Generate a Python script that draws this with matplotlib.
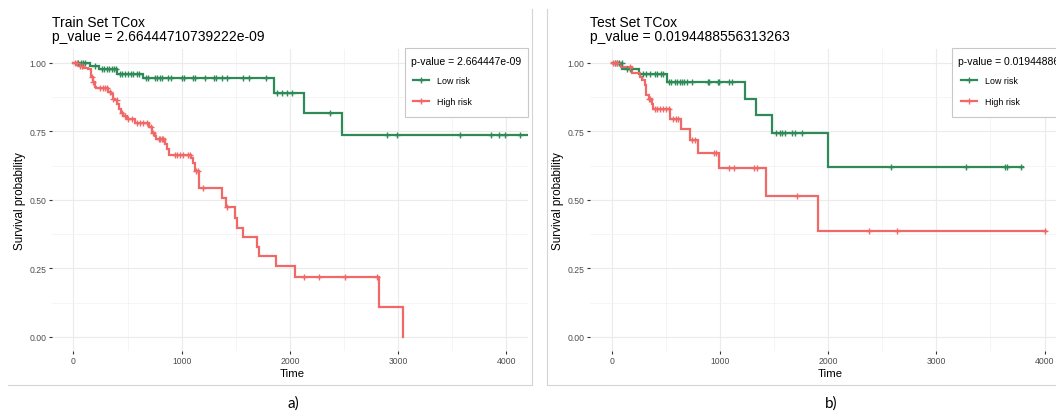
import numpy as np
import matplotlib

matplotlib.use("Agg")
from matplotlib import pyplot as plt
from matplotlib.lines import Line2D
from matplotlib.patches import Rectangle

plt.rcParams["font.family"] = ["Liberation Sans", "DejaVu Sans"]

W, H = 1056, 414

GREEN = "#2E8B57"
RED = "#F06868"

# ---- Train set: Kaplan-Meier steps (time of drop, survival after drop) ----
train_low_t = [0, 150, 240, 405, 640, 1855, 2132, 2477]
train_low_s = [1.0, 0.988, 0.976, 0.960, 0.944, 0.890, 0.818, 0.735]
train_low_end = 4200
train_low_cens = [46, 68, 92, 108, 200, 262, 286, 308, 333, 354, 376, 394,
                  431, 453, 477, 508, 530, 554, 585, 610,
                  671, 693, 749, 770, 801, 822, 878, 899, 1001, 1023, 1103,
                  1124, 1217, 1300, 1318, 1371, 1417, 1565, 1623, 1781,
                  1877, 1925, 1973, 2021, 2372,
                  2899, 2994, 3569, 3856, 3936, 3984, 4128]

train_high_t = [0, 37, 55, 92, 139, 165, 180, 195, 212, 323, 345, 363, 385,
                407, 425, 437, 462, 493, 570, 702, 724, 749, 764, 847, 862,
                887, 1084, 1103, 1124, 1161, 1370, 1410, 1493, 1514, 1564,
                1699, 1717, 1871, 2050, 2825, 3042]
train_high_s = [1.0, 0.993, 0.987, 0.979, 0.976, 0.948, 0.930, 0.911, 0.908,
                0.893, 0.885, 0.869, 0.863, 0.851, 0.833, 0.817, 0.805, 0.795,
                0.782, 0.766, 0.744, 0.733, 0.722, 0.702, 0.686, 0.665, 0.653,
                0.635, 0.605, 0.544, 0.508, 0.475, 0.435, 0.399, 0.366, 0.327,
                0.294, 0.257, 0.217, 0.110, 0.0]
train_high_end = 3042
train_high_cens = [15, 31, 62, 77, 170, 185, 246, 271, 293, 308, 339, 370,
                   400, 447, 477, 508, 539, 585, 616, 647, 678, 712, 735,
                   786, 801, 817, 832, 940, 961, 986, 1010, 1063, 1078,
                   1130, 1150, 1195, 1416, 2132, 2267, 2506, 2803]

# ---- Test set ----
test_low_t = [0, 100, 254, 514, 1230, 1331, 1478, 2000]
test_low_s = [1.0, 0.978, 0.958, 0.930, 0.869, 0.808, 0.745, 0.619]
test_low_end = 3800
test_low_cens = [31, 46, 70, 92, 138, 174, 291, 321, 352, 398, 419, 459, 474,
                 529, 551, 582, 603, 627, 652, 673, 695, 744, 888, 903, 980,
                 995, 1087, 1111, 1521, 1552, 1576, 1604, 1669, 1690, 1762,
                 2584, 3278, 3639, 3650, 3778]

test_high_t = [0, 90, 184, 266, 285, 306, 320, 345, 370, 383, 536, 643, 720,
               800, 989, 1428, 1907]
test_high_s = [1.0, 0.983, 0.964, 0.948, 0.936, 0.917, 0.881, 0.866, 0.851,
               0.833, 0.796, 0.760, 0.719, 0.671, 0.617, 0.514, 0.386]
test_high_end = 4009
test_high_cens = [15, 31, 46, 170, 346, 358, 398, 419, 444, 474, 505, 529,
                  566, 597, 615, 747, 772, 948, 964, 1088, 1128, 1313, 1344,
                  1716, 2381, 2637, 4000]

panels = [
    dict(x0=51.8, name="Train Set TCox", p_title="2.66444710739222e-09",
         p_legend="2.664447e-09", legend_x=404.8, tag="a)", tag_x=293,
         frame="left",
         curves=[(train_low_t, train_low_s, train_low_end, train_low_cens, GREEN),
                 (train_high_t, train_high_s, train_high_end, train_high_cens, RED)]),
    dict(x0=590.0, name="Test Set TCox", p_title="0.0194488556313263",
         p_legend="0.01944886", legend_x=952.3, tag="b)", tag_x=831,
         frame="right",
         curves=[(test_low_t, test_low_s, test_low_end, test_low_cens, GREEN),
                 (test_high_t, test_high_s, test_high_end, test_high_cens, RED)]),
]

fig = plt.figure(figsize=(W / 100, H / 100), dpi=100)
fig.patch.set_facecolor("white")


def fx(x):
    return x / W


def fy(y):
    return 1 - y / H


def ftext(x, y, s, **kw):
    fig.text(fx(x), fy(y), s, **kw)


def fline(xs, ys, **kw):
    fig.add_artist(Line2D([fx(v) for v in xs], [fy(v) for v in ys], **kw))


PANEL_W = 476.2
PANEL_TOP, PANEL_BOT = 50.0, 351.7

for p in panels:
    ax = fig.add_axes([fx(p["x0"]), fy(PANEL_BOT), PANEL_W / W, (PANEL_BOT - PANEL_TOP) / H])
    ax.set_xlim(-200, 4200)
    ax.set_ylim(-0.05, 1.05)
    for sp in ax.spines.values():
        sp.set_visible(False)
    ax.set_xticks([0, 1000, 2000, 3000, 4000])
    ax.set_yticks([0, 0.25, 0.5, 0.75, 1.0])
    ax.set_yticklabels(["0.00", "0.25", "0.50", "0.75", "1.00"])
    ax.set_xticks([500, 1500, 2500, 3500], minor=True)
    ax.set_yticks([0.125, 0.375, 0.625, 0.875], minor=True)
    ax.tick_params(which="major", length=2.0, width=0.8, color="#333333",
                   labelcolor="#4D4D4D", labelsize=6.2, pad=1.8)
    ax.tick_params(which="minor", length=0)
    ax.grid(which="major", color="#EBEBEB", linewidth=0.8)
    ax.grid(which="minor", color="#F2F2F2", linewidth=0.5)
    ax.set_axisbelow(True)

    for t, s, end, cens, col in p["curves"]:
        t = np.asarray(t, float)
        s = np.asarray(s, float)
        ax.step(np.r_[t, end], np.r_[s, s[-1]], where="post", color=col,
                linewidth=1.6, solid_joinstyle="miter", zorder=3)
        cens = np.asarray(cens, float)
        idx = np.searchsorted(t, cens, side="right") - 1
        ax.plot(cens, s[idx], linestyle="none", marker="+", markersize=5,
                markeredgewidth=1.0, color=col, zorder=4)

    x0 = p["x0"]
    ftext(x0, 27.3, p["name"], fontsize=10, va="baseline")
    ftext(x0, 40.7, "p_value = " + p["p_title"], fontsize=10, va="baseline")
    ftext(x0 + 19.8 - 51.8, 201, "Survival probability", fontsize=8.4,
          rotation=90, ha="center", va="center")
    ftext(x0 + PANEL_W / 2 + 2, 376.7, "Time", fontsize=8.2, ha="center", va="baseline")

    # legend box
    lx = p["legend_x"]
    right = x0 + PANEL_W
    fig.add_artist(Rectangle((fx(lx), fy(118)), (right - lx) / W, (118 - 49.3) / H,
                             transform=fig.transFigure, facecolor="white",
                             edgecolor="#C8C8C8", linewidth=0.8, zorder=5))
    ftext(lx + 6, 65, "p-value = " + p["p_legend"], fontsize=7.5, va="baseline", zorder=6)
    for yy, lab, col in [(81.3, "Low risk", GREEN), (102.3, "High risk", RED)]:
        fline([lx + 8.3, lx + 24.6], [yy, yy], color=col, linewidth=1.6, zorder=6)
        fline([lx + 16.4], [yy], color=col, marker="+", markersize=5,
              markeredgewidth=1.0, linestyle="none", zorder=6)
        ftext(lx + 32.3, yy, lab, fontsize=6.4, va="center", zorder=6)

    ftext(p["tag_x"], 404, p["tag"], fontsize=11, ha="center", va="center",
          family=["Lato", "DejaVu Sans"])

# outer frames around each panel
frame_kw = dict(color="#D4D4D4", linewidth=0.8)
fline([8, 532, 532], [386, 386, 10], **frame_kw)
fline([547, 547, 1056], [10, 386, 386], **frame_kw)

fig.savefig("out.png", dpi=100)
